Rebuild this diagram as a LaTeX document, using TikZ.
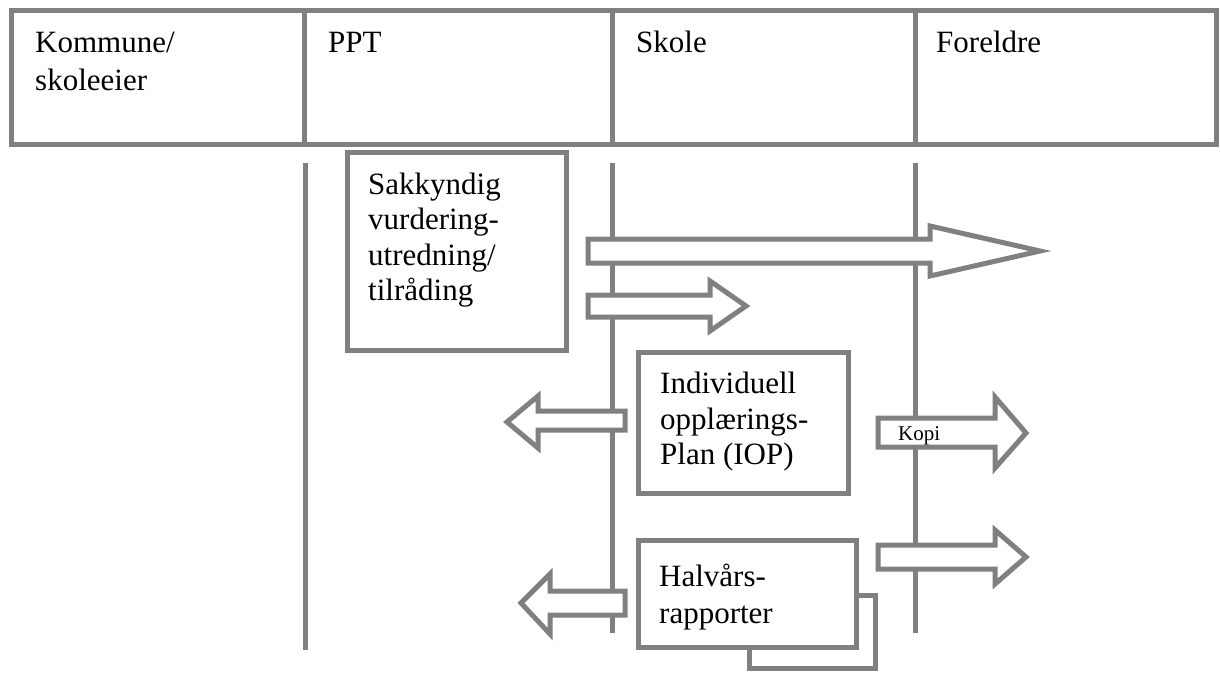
\documentclass[tikz,border=0pt]{standalone}
\usepackage{fontspec}
\setmainfont{Liberation Serif}
\definecolor{linegray}{HTML}{808080}

\begin{document}
\begin{tikzpicture}[
   x=1pt, y=-1pt,
   every node/.style={font=\fontsize{31}{35.5}\selectfont, inner sep=0pt},
   frame/.style={draw=linegray, line width=5pt},
   lifeline/.style={draw=linegray, line width=5pt},
   blockarrow/.style={draw=linegray, line width=5pt, fill=white, line join=miter},
   docbox/.style={draw=linegray, line width=5pt, fill=white},
   boxtext/.style={anchor=base west, align=left},
   header/.style={anchor=base west, align=left}]

\useasboundingbox (0,0) rectangle (1221,675);

\draw[frame] (11.5,10.5) rectangle (1216.5,144.5);
\draw[frame] (304.5,10.5) -- (304.5,144.5);
\draw[frame] (612.5,10.5) -- (612.5,144.5);
\draw[frame] (915,10.5) -- (915,144.5);

\node[header, font=\fontsize{31}{38}\selectfont] (kommune) at (35,90.5) {Kommune/\\skoleeier};
\node[header] (ppt) at (328,52.5) {PPT};
\node[header] (skole) at (636,52.5) {Skole};
\node[header] (foreldre) at (936,52.5) {Foreldre};

\coordinate (pptTop) at (305,163);
\coordinate (pptEnd) at (305,650);
\coordinate (skoleTop) at (612,163);
\coordinate (skoleEnd) at (612,633);
\coordinate (foreldreTop) at (915,163);
\coordinate (foreldreEnd) at (915,633);

\draw[lifeline] (pptTop) -- (pptEnd);
\draw[lifeline] (skoleTop) -- (skoleEnd);
\draw[lifeline] (foreldreTop) -- (foreldreEnd);

\draw[blockarrow] (588,239) -- (930,239) -- (930,226) -- (1040,251) -- (930,276) -- (930,263) -- (588,263) -- cycle;
\draw[blockarrow] (588,295) -- (710,295) -- (710,281) -- (746,306) -- (710,331) -- (710,317) -- (588,317) -- cycle;
\draw[blockarrow] (625,411) -- (538,411) -- (538,396) -- (507,422) -- (538,448) -- (538,430) -- (625,430) -- cycle;
\draw[blockarrow] (878,418) -- (995,418) -- (995,397) -- (1026,433) -- (995,468) -- (995,447) -- (878,447) -- cycle;
\draw[blockarrow] (625,591) -- (550,591) -- (550,574) -- (521,603) -- (550,634) -- (550,615) -- (625,615) -- cycle;
\draw[blockarrow] (878,545) -- (995,545) -- (995,530) -- (1026,557) -- (995,584) -- (995,569) -- (878,569) -- cycle;

\node[anchor=base west, font=\fontsize{21}{24}\selectfont] (kopi) at (898,440) {Kopi};

\node[docbox, minimum width=219pt, minimum height=198pt] (sakkyndig) at (456.5,251) {};
\node[boxtext] (sakkyndigText) at (368,300.5) {Sakkyndig\\vurdering-\\utredning/\\tilråding};

\node[docbox, minimum width=210pt, minimum height=141pt] (iop) at (743,422.5) {};
\node[boxtext] (iopText) at (660,464.5) {Individuell\\opplærings-\\Plan (IOP)};

\node[docbox, minimum width=126pt, minimum height=73pt] (halvaarsBack) at (812,631.5) {};
\node[docbox, minimum width=218pt, minimum height=107pt] (halvaars) at (747,593.5) {};
\node[boxtext, font=\fontsize{31}{36.5}\selectfont] (halvaarsText) at (659,623) {Halvårs-\\rapporter};

\end{tikzpicture}
\end{document}
